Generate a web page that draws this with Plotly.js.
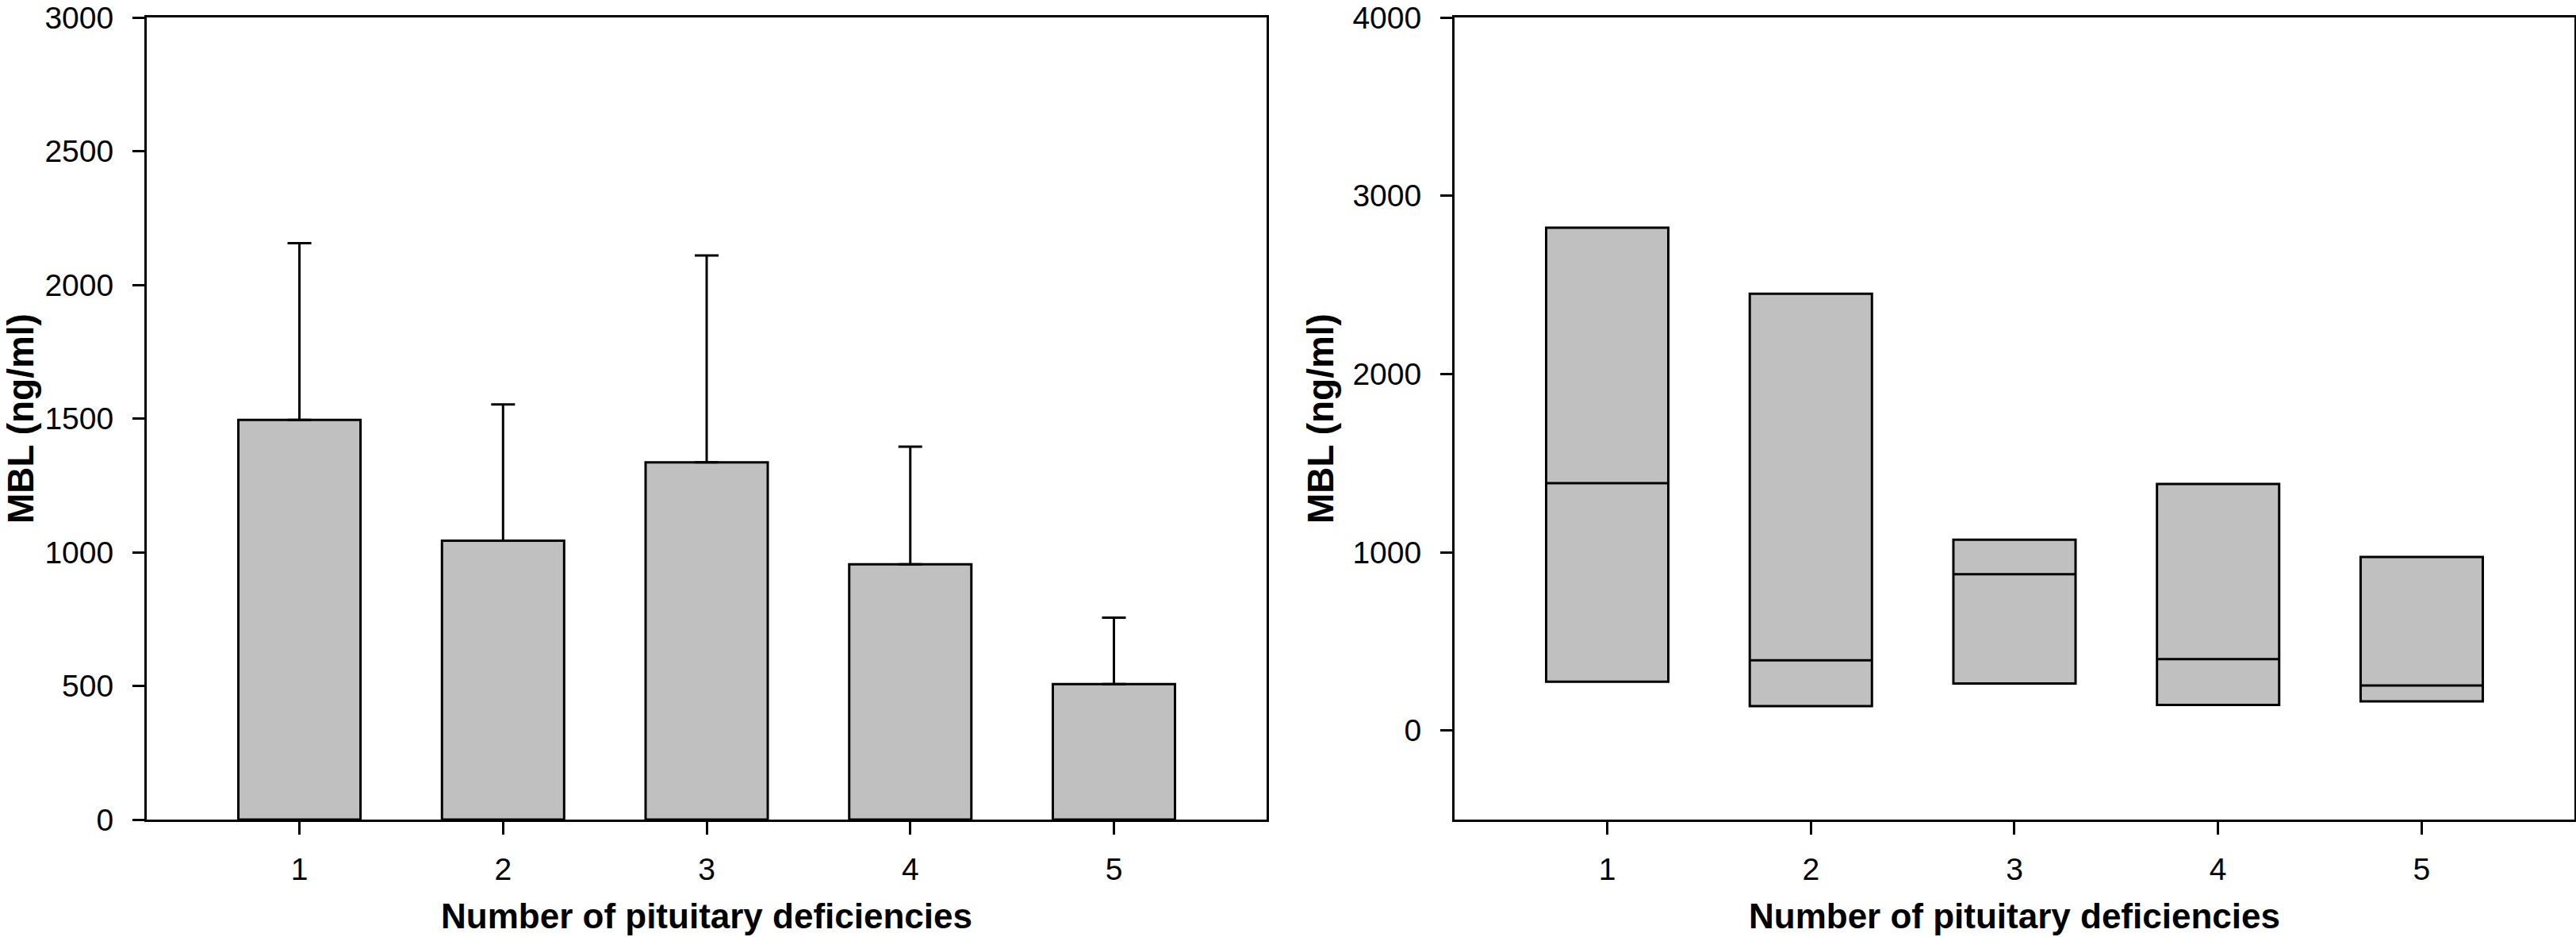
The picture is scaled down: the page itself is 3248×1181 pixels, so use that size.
<!DOCTYPE html>
<html>
<head>
<meta charset="utf-8">
<script src="https://cdn.plot.ly/plotly-3.0.1.min.js"></script>
<style>
  html, body { margin: 0; padding: 0; background: #fff; }
  #chart { width: 3248px; height: 1181px; }
</style>
</head>
<body>
<div id="chart"></div>
<script>
// number of pituitary deficiencies
let groups = [1, 2, 3, 4, 5];

// left panel: mean MBL with upper SD
let meanMBL = [1495, 1043, 1336, 955, 507];
let upperMBL = [2156, 1553, 2110, 1395, 755];

// right panel: box without whiskers
let q1MBL = [273, 137, 263, 143, 163];
let medianMBL = [1387, 393, 877, 400, 252];
let q3MBL = [2820, 2450, 1070, 1383, 973];

let yTicksLeft = [0, 500, 1000, 1500, 2000, 2500, 3000];
let yTicksRight = [0, 1000, 2000, 3000, 4000];

let fontFamily = 'Liberation Sans, Arial, sans-serif';
let grey = '#c0c0c0';

function errPlus() {
  let out = [];
  for(let i = 0; i < meanMBL.length; i++) {
    out.push(upperMBL[i] - meanMBL[i]);
  }
  return out;
}

let barTrace = {
  type: 'bar',
  x: groups,
  y: meanMBL,
  width: 0.6,
  marker: { color: grey, line: { color: '#000', width: 3 } },
  error_y: {
    type: 'data',
    symmetric: false,
    array: errPlus(),
    arrayminus: groups.map(function() { return 0; }),
    color: '#000',
    thickness: 3,
    width: 15
  },
  xaxis: 'x',
  yaxis: 'y',
  hoverinfo: 'skip'
};

let boxTrace = {
  type: 'box',
  x: groups,
  q1: q1MBL,
  median: medianMBL,
  q3: q3MBL,
  lowerfence: q1MBL,
  upperfence: q3MBL,
  width: 0.6,
  whiskerwidth: 0,
  boxpoints: false,
  fillcolor: grey,
  line: { color: '#000', width: 3 },
  xaxis: 'x2',
  yaxis: 'y2',
  hoverinfo: 'skip'
};

function xAxis(domain, anchor) {
  return {
    domain: domain,
    anchor: anchor,
    range: [0.25, 5.75],
    tickvals: groups,
    ticks: 'outside',
    ticklen: 16,
    tickwidth: 3,
    tickcolor: '#000',
    ticklabelstandoff: 10,
    ticklabeloverflow: 'allow',
    showline: true,
    linecolor: '#000',
    linewidth: 3,
    mirror: true,
    showgrid: false,
    zeroline: false,
    tickfont: { family: fontFamily, size: 39, color: '#000' },
    title: {
      text: 'Number of pituitary deficiencies',
      font: { family: fontFamily, size: 44, color: '#000', weight: 'bold' },
      standoff: 24
    }
  };
}

function yAxis(range, ticks, anchor) {
  return {
    domain: [0, 1],
    anchor: anchor,
    range: range,
    tickvals: ticks,
    ticks: 'outside',
    ticklen: 15,
    tickwidth: 3,
    tickcolor: '#000',
    ticklabelstandoff: 16,
    ticklabeloverflow: 'allow',
    showline: true,
    linecolor: '#000',
    linewidth: 3,
    mirror: true,
    showgrid: false,
    zeroline: false,
    tickfont: { family: fontFamily, size: 39, color: '#000' },
    title: {
      text: 'MBL (ng/ml)',
      font: { family: fontFamily, size: 46, color: '#000', weight: 'bold' },
      standoff: 10
    }
  };
}

let layout = {
  width: 3248,
  height: 1181,
  showlegend: false,
  paper_bgcolor: '#fff',
  plot_bgcolor: '#fff',
  margin: { l: 185, r: 2, t: 22, b: 148 },
  xaxis: xAxis([0, 0.4613], 'y'),
  yaxis: yAxis([0, 3000], yTicksLeft, 'x'),
  xaxis2: xAxis([0.5387, 1], 'y2'),
  yaxis2: yAxis([-500, 4000], yTicksRight, 'x2')
};

Plotly.newPlot('chart', [barTrace, boxTrace], layout, {
  displayModeBar: false,
  staticPlot: true
});
</script>
</body>
</html>
